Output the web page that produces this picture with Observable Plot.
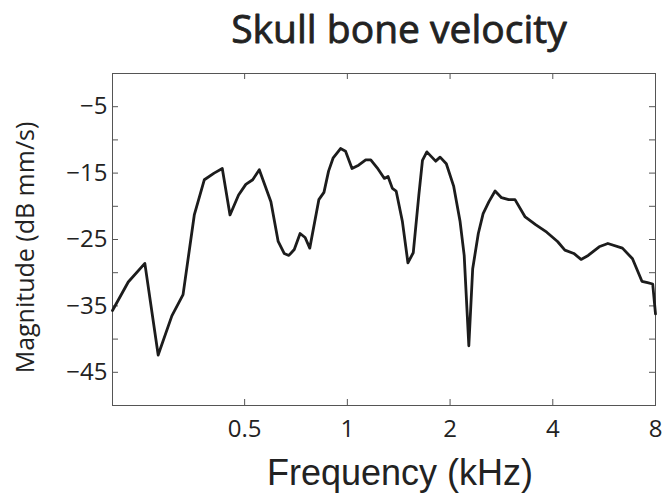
<!DOCTYPE html>
<html>
<head>
<meta charset="utf-8">
<script src="https://cdn.jsdelivr.net/npm/d3@7"></script>
<script src="https://cdn.jsdelivr.net/npm/@observablehq/plot@0.6"></script>
<style>
  html, body { margin: 0; padding: 0; background: #fff; }
  #chart svg { display: block; }
</style>
</head>
<body>
<div id="chart"></div>
<script>
// Skull bone velocity magnitude vs. frequency
const freqKHz = [0.205, 0.228, 0.255, 0.279, 0.306, 0.330, 0.356, 0.381, 0.407, 0.430,
  0.453, 0.480, 0.504, 0.528, 0.552, 0.597, 0.627, 0.653, 0.674, 0.699,
  0.727, 0.752, 0.776, 0.825, 0.854, 0.881, 0.909, 0.955, 0.988, 1.032,
  1.079, 1.132, 1.171, 1.223, 1.284, 1.316, 1.355, 1.39, 1.45, 1.505,
  1.56, 1.62, 1.66, 1.71, 1.815, 1.87, 1.95, 2.05, 2.14, 2.2,
  2.27, 2.33, 2.42, 2.5, 2.6, 2.71, 2.83, 2.97, 3.1, 3.32,
  3.57, 3.84, 4.13, 4.34, 4.61, 4.84, 5.08, 5.47, 5.8, 6.4,
  6.85, 7.3, 7.58, 7.85, 8.0];
const magnitudeDb = [-35.7, -31.4, -28.6, -42.4, -36.5, -33.3, -21.3, -16.0, -15.0, -14.3,
  -21.3, -18.3, -16.7, -16.0, -14.5, -19.3, -25.3, -27.1, -27.4, -26.5,
  -24.1, -24.7, -26.3, -19.0, -17.9, -14.7, -12.7, -11.3, -11.7, -14.3,
  -13.8, -13.0, -13.0, -14.2, -15.8, -15.5, -17.3, -17.7, -22.3, -28.5,
  -27.0, -18.3, -13.1, -11.8, -13.2, -12.6, -13.6, -17.0, -22.3, -27.4,
  -41.0, -29.4, -24.1, -21.1, -19.3, -17.7, -18.7, -19.0, -19.0, -21.6,
  -22.8, -23.9, -25.3, -26.6, -27.1, -28.0, -27.4, -26.1, -25.6, -26.3,
  -27.9, -31.3, -31.5, -31.7, -36.2];

const xTicks = [0.5, 1, 2, 4, 8];
const yTicks = [-50, -45, -40, -35, -30, -25, -20, -15, -10, -5, 0];
const yLabels = [-5, -15, -25, -35, -45];

const titleText = "Skull bone velocity";
const xLabel = "Frequency (kHz)";
const yLabel = "Magnitude (dB mm/s)";

const data = freqKHz.map((f, i) => ({f, db: magnitudeDb[i]}));

const W = 663, H = 497;
const mL = 112, mR = 8, mT = 73, mB = 92;
const innerW = W - mL - mR, innerH = H - mT - mB;
const tickLen = 6;

const font = "'Open Sans', 'Noto Sans', sans-serif";
const sansArial = "'Liberation Sans', Arial, sans-serif";
const fmtY = d => String(d).replace("-", "\u2212");

const chart = Plot.plot({
  width: W,
  height: H,
  marginLeft: mL,
  marginRight: mR,
  marginTop: mT,
  marginBottom: mB,
  style: {fontFamily: font, background: "#fff"},
  x: {type: "log", domain: [0.205, 8], axis: null},
  y: {domain: [-50, 0], axis: null},
  marks: [
    Plot.frame({stroke: "#555", strokeWidth: 1}),
    // inward ticks on all four sides
    Plot.tickX(xTicks, {x: d => d, insetTop: innerH - tickLen, stroke: "#555"}),
    Plot.tickX(xTicks, {x: d => d, insetBottom: innerH - tickLen, stroke: "#555"}),
    Plot.tickY(yTicks, {y: d => d, insetRight: innerW - tickLen, stroke: "#555"}),
    Plot.tickY(yTicks, {y: d => d, insetLeft: innerW - tickLen, stroke: "#555"}),
    // tick labels
    Plot.text(xTicks, {x: d => d, text: d => String(d), frameAnchor: "bottom", dy: 24, fontSize: 24, fill: "#222", lineAnchor: "middle"}),
    Plot.text(yLabels, {y: d => d, text: fmtY, frameAnchor: "left", dx: -5, textAnchor: "end", fontSize: 24, fill: "#222", lineAnchor: "middle"}),
    // response curve
    Plot.line(data, {x: "f", y: "db", stroke: "#1c1c1c", strokeWidth: 2.8, strokeLinejoin: "round"}),
    // titles
    Plot.text([titleText], {frameAnchor: "top", dy: -42.5, dx: 15, fontSize: 39, fill: "#222", stroke: "#222", strokeWidth: 0.8, lineAnchor: "middle"}),
    Plot.text([xLabel], {frameAnchor: "bottom", dy: 68, dx: 16, fontSize: 36, fontFamily: sansArial, fill: "#222", lineAnchor: "middle"}),
    Plot.text([yLabel], {frameAnchor: "left", dx: -87, dy: 8, fontSize: 25, fill: "#222", rotate: -90, textAnchor: "middle", lineAnchor: "middle"})
  ]
});

document.getElementById("chart").appendChild(chart);
</script>
</body>
</html>
